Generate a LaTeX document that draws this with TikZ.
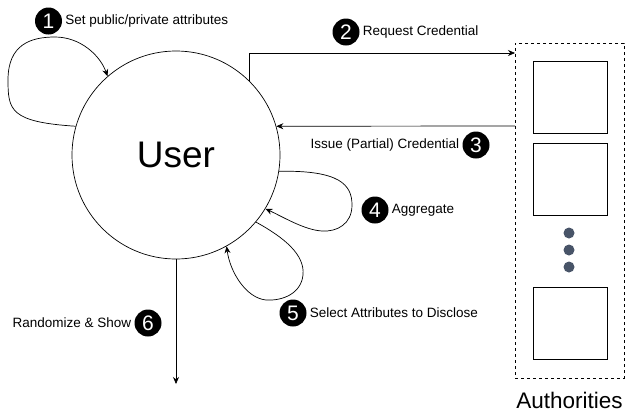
\documentclass[tikz,border=0pt]{standalone}
\usepackage{fontspec}
\setmainfont{Liberation Sans}
\usepackage{xcolor}
\usetikzlibrary{calc, positioning, arrows.meta}

\definecolor{dotgray}{RGB}{72,84,104}

\tikzset{
  arr/.style={-{Stealth[length=7pt,width=6pt]}, line width=0.7pt},
  badge/.style={circle, fill=black, text=white, minimum size=27pt, inner sep=0pt,
    font=\fontsize{21}{21}\selectfont},
  lbl/.style={inner sep=0pt, font=\fontsize{13.5}{15}\selectfont},
  authbox/.style={draw, line width=0.6pt, minimum width=74pt, minimum height=72pt, inner sep=0pt},
}

\begin{document}
\begin{tikzpicture}[x=1pt, y=-1pt]
\useasboundingbox (0,0) rectangle (626,413);

\node[circle, draw, line width=0.7pt, minimum size=208pt, inner sep=0pt,
  font=\fontsize{37}{37}\selectfont] (user) at (176,155) {User};

% the authorities column
\node[draw, dashed, line width=0.6pt, minimum width=109pt, minimum height=335pt] (auth) at (569.5,210.5) {};
\node[lbl, font=\fontsize{22.5}{24}\selectfont, below=14pt of auth] (authname) {Authorities};
\node[authbox] (auth1) at (570,97) {};
\node[authbox] (auth2) at (570,179) {};
\node[authbox] (auth3) at (570,323) {};
\foreach \y in {233,250,267}
  \fill[dotgray] (569,\y) circle (5.5pt);

\coordinate (req) at (515,53);
\coordinate (iss) at (515,126);
\coordinate (show) at (176,384);

% 1: loop on the left
\draw[arr] (user.164) .. controls (10,122) and (8,110) .. (8,80)
  .. controls (8,45) and (30,37) .. (55,37)
  .. controls (80,37) and (100,55) .. (user.131);
\node[badge] (b1) at (48.5,21) {1};
\node[lbl, right=3pt of b1] (t1) {Set public/private attributes};

% 2 and 3: to and from the authorities
\draw[arr] (user.45) |- (req);
\node[badge] (b2) at (346,32) {2};
\node[lbl, right=3pt of b2] (t2) {Request Credential};

\draw[arr] (iss) -- (user.16);
\node[badge] (b3) at (476,145) {3};
\node[lbl, left=3pt of b3] (t3) {Issue (Partial) Credential};

% 4 and 5: loops on the lower right
\draw[arr] (user.-9.5) .. controls (340,170) and (352,185) .. (352,205)
  .. controls (352,224) and (337,232) .. (322,231)
  .. controls (305,230) and (285,218) .. (user.-31);
\node[badge] (b4) at (375,210) {4};
\node[lbl, right=3pt of b4] (t4) {Aggregate};

\draw[arr] (user.-40) .. controls (285,238) and (305,255) .. (303,275)
  .. controls (301,294) and (282,301) .. (266,300)
  .. controls (246,298) and (230,272) .. (user.-61);
\node[badge] (b5) at (293,313) {5};
\node[lbl, right=3pt of b5] (t5) {Select Attributes to Disclose};

% 6: down and out
\draw[arr] (user.south) -- (show);
\node[badge] (b6) at (148,323) {6};
\node[lbl, left=3pt of b6] (t6) {Randomize \& Show};

\end{tikzpicture}
\end{document}
